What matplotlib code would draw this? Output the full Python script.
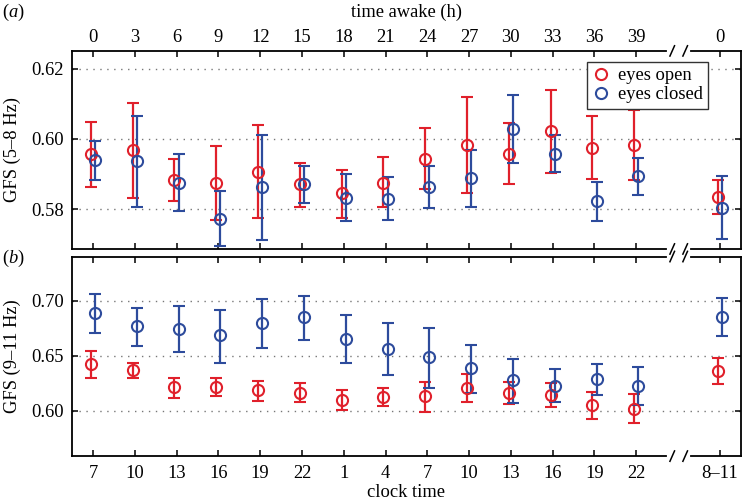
import numpy as np
import matplotlib
matplotlib.use("Agg")
import matplotlib.pyplot as plt
from matplotlib.lines import Line2D
from matplotlib.transforms import blended_transform_factory

plt.rcParams['font.family'] = 'Liberation Serif'
plt.rcParams['mathtext.fontset'] = 'custom'
plt.rcParams['mathtext.rm'] = 'Liberation Serif'
plt.rcParams['mathtext.it'] = 'Liberation Serif:italic'

# tick labels
time_awake = ['0', '3', '6', '9', '12', '15', '18', '21', '24', '27', '30', '33', '36', '39', '0']
clock_time = ['7', '10', '13', '16', '19', '22', '1', '4', '7', '10', '13', '16', '19', '22', '8\u201311']

# (a) GFS 5-8 Hz
a_open = [0.5958, 0.5969, 0.5882, 0.5875, 0.5907, 0.5870, 0.5845, 0.5875, 0.5943, 0.5982, 0.5957, 0.6022, 0.5975, 0.5982, 0.5834]
a_open_hi = [0.6048, 0.6102, 0.5942, 0.5981, 0.6041, 0.5932, 0.5912, 0.5948, 0.6031, 0.6120, 0.6045, 0.6140, 0.6064, 0.6083, 0.5882]
a_open_lo = [0.5864, 0.5831, 0.5824, 0.5770, 0.5773, 0.5806, 0.5775, 0.5807, 0.5858, 0.5845, 0.5870, 0.5904, 0.5886, 0.5883, 0.5786]
a_closed = [0.5939, 0.5937, 0.5874, 0.5772, 0.5862, 0.5871, 0.5831, 0.5828, 0.5862, 0.5888, 0.6028, 0.5958, 0.5822, 0.5893, 0.5802]
a_closed_hi = [0.5995, 0.6064, 0.5958, 0.5852, 0.6011, 0.5924, 0.5900, 0.5890, 0.5923, 0.5969, 0.6125, 0.6010, 0.5877, 0.5946, 0.5893]
a_closed_lo = [0.5883, 0.5805, 0.5794, 0.5694, 0.5713, 0.5818, 0.5766, 0.5769, 0.5803, 0.5805, 0.5931, 0.5906, 0.5767, 0.5840, 0.5714]

# (b) GFS 9-11 Hz
b_open = [0.6425, 0.6367, 0.6214, 0.6217, 0.6185, 0.6160, 0.6095, 0.6124, 0.6130, 0.6209, 0.6164, 0.6139, 0.6049, 0.6015, 0.6358]
b_open_hi = [0.6542, 0.6434, 0.6298, 0.6295, 0.6270, 0.6249, 0.6185, 0.6209, 0.6264, 0.6333, 0.6264, 0.6249, 0.6170, 0.6149, 0.6476]
b_open_lo = [0.6298, 0.6301, 0.6117, 0.6133, 0.6085, 0.6075, 0.6005, 0.6045, 0.5991, 0.6076, 0.6061, 0.6033, 0.5924, 0.5885, 0.6246]
b_closed = [0.6886, 0.6765, 0.6741, 0.6687, 0.6801, 0.6849, 0.6651, 0.6564, 0.6485, 0.6385, 0.6276, 0.6221, 0.6285, 0.6224, 0.6855]
b_closed_hi = [0.7063, 0.6931, 0.6952, 0.6916, 0.7015, 0.7045, 0.6873, 0.6800, 0.6748, 0.6597, 0.6470, 0.6376, 0.6424, 0.6394, 0.7021]
b_closed_lo = [0.6705, 0.6590, 0.6530, 0.6437, 0.6566, 0.6642, 0.6434, 0.6324, 0.6203, 0.6164, 0.6073, 0.6076, 0.6139, 0.6052, 0.6682]

RED = '#e0202b'
BLUE = '#2d4b9c'
FS = 13.3

pos = np.array(list(range(14)) + [15], dtype=float)


def draw_series(ax, x, m, lo, hi, color):
    m = np.array(m)
    yerr = [m - np.array(lo), np.array(hi) - m]
    ax.errorbar(x, m, yerr=yerr, fmt='o', color=color, mfc='none', mec=color,
                ms=8, mew=1.5, elinewidth=1.6, capsize=4, capthick=1.6, zorder=3)


def break_spines(ax):
    ax.spines['top'].set_visible(False)
    ax.spines['bottom'].set_visible(False)
    tr = blended_transform_factory(ax.transData, ax.transAxes)
    for y in (0, 1):
        ax.plot([-0.5, 13.7], [y, y], color='k', lw=1.3, transform=tr, clip_on=False, zorder=5)
        ax.plot([14.32, 15.5], [y, y], color='k', lw=1.3, transform=tr, clip_on=False, zorder=5)
        for xb in (13.86, 14.17):
            ax.plot([xb - 0.055, xb + 0.055], [y - 0.026, y + 0.026], color='k', lw=1.1,
                    transform=tr, clip_on=False, zorder=5)


def style(ax, xpad):
    ax.set_xlim(-0.5, 15.5)
    ax.set_xticks(pos)
    ax.tick_params(direction='in', length=4.5, width=1.1, labelsize=FS,
                   top=True, bottom=True, left=True, right=True, pad=6)
    ax.tick_params(axis='x', pad=xpad)
    ax.yaxis.grid(True, color='#777777', linestyle=(0, (1, 4)), lw=1.0)
    ax.set_axisbelow(True)
    for s in ('left', 'right'):
        ax.spines[s].set_linewidth(1.3)
    break_spines(ax)


fig = plt.figure(figsize=(7.43, 5.04), dpi=100)
ax1 = fig.add_axes([0.097, 0.506, 0.9, 0.393])
ax2 = fig.add_axes([0.097, 0.095, 0.9, 0.396])

# panel (a)
draw_series(ax1, pos - 0.05, a_open, a_open_lo, a_open_hi, RED)
draw_series(ax1, pos + 0.05, a_closed, a_closed_lo, a_closed_hi, BLUE)
style(ax1, 3.5)
ax1.set_ylim(0.5686, 0.6251)
ax1.set_yticks([0.58, 0.60, 0.62])
ax1.set_yticklabels(['0.58', '0.60', '0.62'])
ax1.tick_params(labelbottom=False, labeltop=True)
ax1.set_xticklabels(time_awake)
ax1.xaxis.set_label_position('top')
ax1.set_xlabel('time awake (h)', fontsize=FS, labelpad=8.5)
ax1.set_ylabel('GFS (5\u20138 Hz)', fontsize=FS, labelpad=7)

handles = [Line2D([], [], marker='o', ls='none', mfc='none', mec=RED, ms=8, mew=1.5),
           Line2D([], [], marker='o', ls='none', mfc='none', mec=BLUE, ms=8, mew=1.5)]
leg = ax1.legend(handles, ['eyes open', 'eyes closed'], loc='upper right',
                 bbox_to_anchor=(0.951, 0.944), borderaxespad=0, fontsize=FS,
                 fancybox=False, framealpha=1, edgecolor='#333333',
                 handlelength=1.0, handletextpad=0.4, labelspacing=0.12,
                 borderpad=0.28)
leg.get_frame().set_linewidth(1.0)
leg.set_zorder(10)

# panel (b)
draw_series(ax2, pos - 0.05, b_open, b_open_lo, b_open_hi, RED)
draw_series(ax2, pos + 0.05, b_closed, b_closed_lo, b_closed_hi, BLUE)
style(ax2, 6.5)
ax2.set_ylim(0.5588, 0.740)
ax2.set_yticks([0.60, 0.65, 0.70])
ax2.set_yticklabels(['0.60', '0.65', '0.70'])
ax2.set_xticklabels(clock_time)
ax2.set_xlabel('clock time', fontsize=FS, labelpad=1.5)
ax2.set_ylabel('GFS (9\u201311 Hz)', fontsize=FS, labelpad=7)

fig.text(0.003, 0.975, '($a$)', fontsize=FS, ha='left', va='center')
fig.text(0.003, 0.488, '($b$)', fontsize=FS, ha='left', va='center')

fig.savefig('out.png', dpi=100)
